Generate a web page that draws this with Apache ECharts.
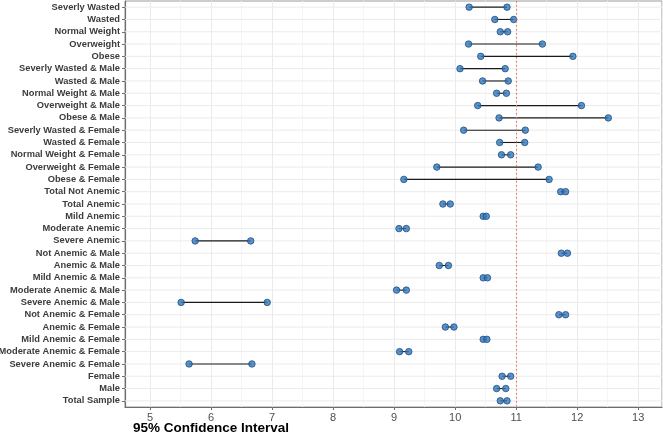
<!DOCTYPE html>
<html>
<head>
<meta charset="utf-8">
<script src="https://cdn.jsdelivr.net/npm/echarts@6/dist/echarts.min.js"></script>
<style>html,body{margin:0;padding:0;background:#fff}#c{width:663px;height:434px}</style>
</head>
<body>
<div id="c"></div>
<script>
var categories = [
  "Severly Wasted","Wasted","Normal Weight","Overweight","Obese",
  "Severly Wasted & Male","Wasted & Male","Normal Weight & Male","Overweight & Male","Obese & Male",
  "Severly Wasted & Female","Wasted & Female","Normal Weight & Female","Overweight & Female","Obese & Female",
  "Total Not Anemic","Total Anemic","Mild Anemic","Moderate Anemic","Severe Anemic",
  "Not Anemic & Male","Anemic & Male","Mild Anemic & Male","Moderate Anemic & Male","Severe Anemic & Male",
  "Not Anemic & Female","Anemic & Female","Mild Anemic & Female","Moderate Anemic & Female","Severe Anemic & Female",
  "Female","Male","Total Sample"
];
var lower = [10.23,10.65,10.74,10.22,10.42,10.08,10.45,10.68,10.37,10.72,10.14,10.73,10.76,9.70,9.16,11.73,9.80,10.46,9.08,5.74,11.74,9.74,10.46,9.04,5.51,11.70,9.84,10.46,9.09,5.64,10.77,10.68,10.74];
var upper = [10.85,10.96,10.86,11.43,11.93,10.82,10.87,10.84,12.07,12.51,11.15,11.14,10.91,11.36,11.54,11.81,9.92,10.51,9.20,6.65,11.84,9.89,10.53,9.20,6.92,11.81,9.98,10.52,9.24,6.67,10.91,10.83,10.85];
var refValue = 11;
var xMin = 4.59, xMax = 13.39;
var xTitle = '95% Confidence Interval';

var segData = categories.map(function(c,i){ return [lower[i], i, upper[i]]; });
var lowData = categories.map(function(c,i){ return [lower[i], i]; });
var upData = categories.map(function(c,i){ return [upper[i], i]; });

var chart = echarts.init(document.getElementById('c'), null, {renderer:'canvas'});
var fontFam = '"Liberation Sans", Arial, Helvetica, sans-serif';
var pointStyle = {color:'#3277bb', borderColor:'#1f4f80', borderWidth:1};
chart.setOption({
  animation:false,
  backgroundColor:'#ffffff',
  title:{text:xTitle, left:211, top:421, textAlign:'center', padding:0,
    textStyle:{fontFamily:fontFam, fontWeight:'bold', fontSize:13.5, color:'#000'}},
  grid:{left:125, right:1, top:1, bottom:27, outerBoundsMode:'none', containLabel:false,
    show:true, borderColor:'#9a9a9a', borderWidth:1, backgroundColor:'#ffffff'},
  xAxis:{
    type:'value', min:xMin, max:xMax, splitNumber:9,
    axisLine:{show:true, onZero:false, lineStyle:{color:'#6e6e6e', width:1.2}},
    axisTick:{show:true, length:3, lineStyle:{color:'#6e6e6e'}},
    axisLabel:{fontFamily:fontFam, fontSize:11, color:'#4d4d4d', margin:5, showMinLabel:false, showMaxLabel:false},
    splitLine:{show:true, lineStyle:{color:'#ebebeb', width:1}},
    minorTick:{show:false, splitNumber:2},
    minorSplitLine:{show:true, lineStyle:{color:'#f5f5f5', width:1}}
  },
  yAxis:{
    type:'category', data:categories, inverse:true,
    axisLine:{show:true, lineStyle:{color:'#6e6e6e', width:1.2}},
    axisTick:{show:true, alignWithLabel:true, length:3, interval:0, lineStyle:{color:'#6e6e6e'}},
    axisLabel:{fontFamily:fontFam, fontSize:9.3, fontWeight:'bold', color:'#3c3c3c', margin:5, interval:0},
    splitLine:{show:false}
  },
  series:[
    {
      type:'custom', data:segData, z:2,
      encode:{x:0, y:1},
      renderItem:function(params, api){
        var y = api.value(1);
        var p1 = api.coord([api.value(0), y]);
        var p2 = api.coord([api.value(2), y]);
        var gx1 = api.coord([xMin, y]);
        var gx2 = api.coord([xMax, y]);
        return {type:'group', children:[
          {type:'line', z2:0, shape:{x1:gx1[0], y1:gx1[1], x2:gx2[0], y2:gx2[1]}, style:{stroke:'#ebebeb', lineWidth:1}},
          {type:'line', z2:1, shape:{x1:p1[0], y1:p1[1], x2:p2[0], y2:p2[1]}, style:{stroke:'#1a1a1a', lineWidth:1.1}}
        ]};
      }
    },
    {type:'scatter', data:lowData, symbolSize:6.5, itemStyle:pointStyle, z:3,
      markLine:{
        silent:true, symbol:'none', label:{show:false},
        lineStyle:{color:'#f26b5e', type:[1.5,2.5], width:1.1},
        data:[{xAxis:refValue}]
      }},
    {type:'scatter', data:upData, symbolSize:6.5, itemStyle:pointStyle, z:3}
  ]
});
</script>
</body>
</html>
